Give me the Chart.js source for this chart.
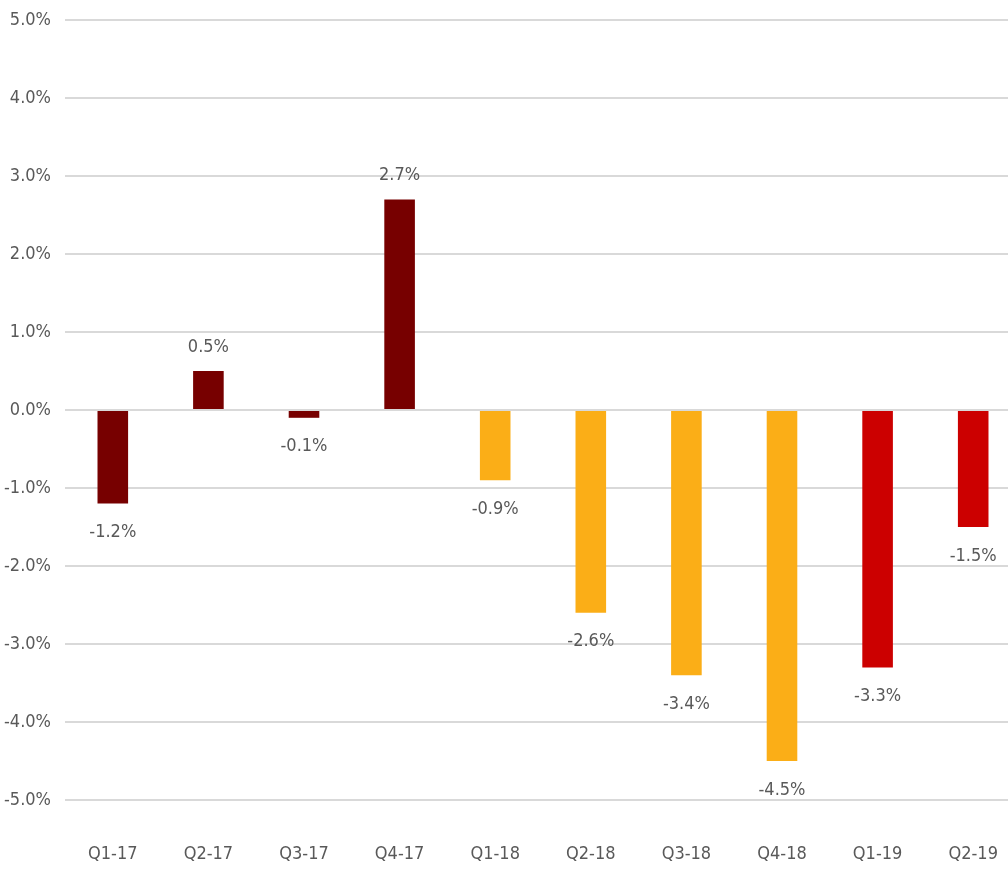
<!DOCTYPE html>
<html>
<head>
<meta charset="utf-8">
<script src="https://cdn.jsdelivr.net/npm/chart.js@4"></script>
<style>
html,body{margin:0;padding:0;background:#fff;overflow:hidden;width:1008px;height:874px;}
canvas{display:block;}
</style>
</head>
<body>
<canvas id="c" width="1021" height="874" style="width:1021px;height:874px;"></canvas>
<script>
const categories = ["Q1-17","Q2-17","Q3-17","Q4-17","Q1-18","Q2-18","Q3-18","Q4-18","Q1-19","Q2-19"];
const values = [-1.2, 0.5, -0.1, 2.7, -0.9, -2.6, -3.4, -4.5, -3.3, -1.5];
const barColors = ["#770000","#770000","#770000","#770000","#FBAE17","#FBAE17","#FBAE17","#FBAE17","#CC0000","#CC0000"];
const yTicks = [-5,-4,-3,-2,-1,0,1,2,3,4,5];

const FONT = "'Liberation Sans Narrow','DejaVu Sans Condensed',sans-serif";
const GRAY = "#595959";
const FS = 18;

const labelPlugin = {
  id: 'valueLabels',
  afterDatasetsDraw(chart) {
    const ctx = chart.ctx;
    const meta = chart.getDatasetMeta(0);
    ctx.save();
    ctx.font = FS + "px " + FONT;
    ctx.fillStyle = GRAY;
    ctx.textAlign = "center";
    ctx.textBaseline = "middle";
    meta.data.forEach((bar, i) => {
      const v = values[i];
      const txt = v.toFixed(1) + "%";
      const y = v >= 0 ? bar.y - 24 : bar.y + 29;
      ctx.fillText(txt, bar.x, y);
    });
    ctx.restore();
  }
};

new Chart(document.getElementById('c'), {
  type: 'bar',
  data: {
    labels: categories,
    datasets: [{
      data: values,
      backgroundColor: barColors,
      borderWidth: 0,
      categoryPercentage: 1.0,
      barPercentage: 0.32
    }]
  },
  options: {
    responsive: false,
    maintainAspectRatio: false,
    animation: false,
    devicePixelRatio: 1,
    layout: { padding: { top: 20, bottom: 0, left: 0, right: 0 } },
    plugins: { legend: { display: false }, tooltip: { enabled: false } },
    scales: {
      x: {
        grid: { display: false, drawTicks: false },
        border: { display: false },
        afterFit(axis) { axis.height = 74; axis.paddingLeft = 0; axis.paddingRight = 0; },
        ticks: { color: GRAY, font: { family: FONT, size: FS }, padding: 44, maxRotation: 0, autoSkip: false }
      },
      y: {
        min: -5, max: 5,
        afterBuildTicks(axis) { axis.ticks = yTicks.map(v => ({ value: v })); },
        afterFit(axis) { axis.width = 65; axis.paddingTop = 0; axis.paddingBottom = 0; },
        grid: { color: "#D9D9D9", lineWidth: 2, drawTicks: false },
        border: { display: false },
        ticks: {
          color: GRAY, font: { family: FONT, size: FS }, padding: 14,
          callback: v => v.toFixed(1) + "%"
        }
      }
    }
  },
  plugins: [labelPlugin]
});
</script>
</body>
</html>
